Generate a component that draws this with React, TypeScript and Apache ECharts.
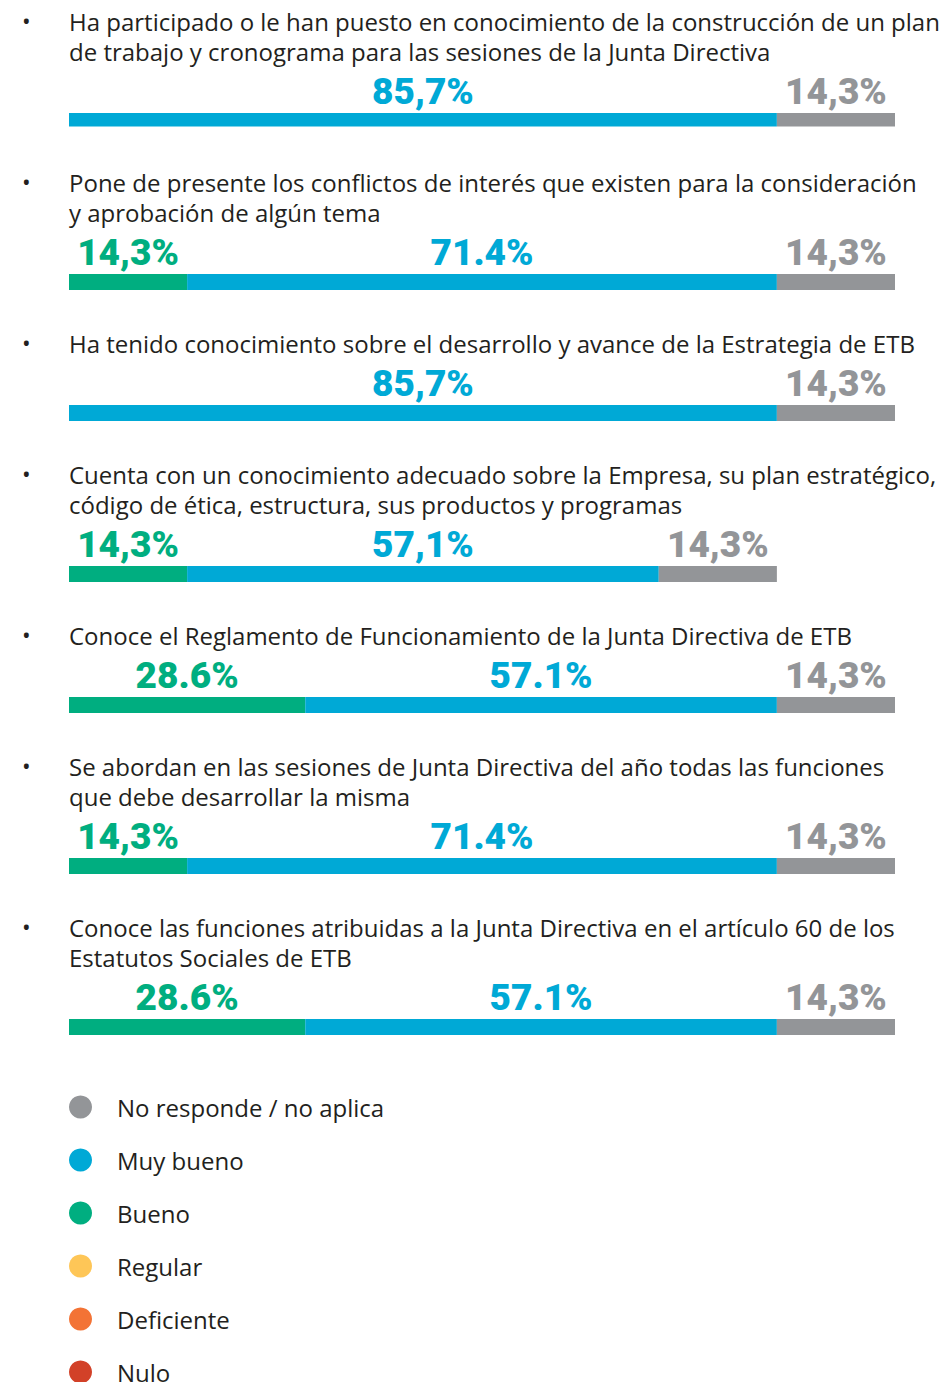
import React, { useEffect, useRef } from 'react';
import * as echarts from 'echarts';

const questions: string[] = [
  'Ha participado o le han puesto en conocimiento de la construcción de un plan\nde trabajo y cronograma para las sesiones de la Junta Directiva',
  'Pone de presente los conflictos de interés que existen para la consideración\ny aprobación de algún tema',
  'Ha tenido conocimiento sobre el desarrollo y avance de la Estrategia de ETB',
  'Cuenta con un conocimiento adecuado sobre la Empresa, su plan estratégico,\ncódigo de ética, estructura, sus productos y programas',
  'Conoce el Reglamento de Funcionamiento de la Junta Directiva de ETB',
  'Se abordan en las sesiones de Junta Directiva del año todas las funciones\nque debe desarrollar la misma',
  'Conoce las funciones atribuidas a la Junta Directiva en el artículo 60 de los\nEstatutos Sociales de ETB',
];

const categories: string[] = ['No responde / no aplica', 'Muy bueno', 'Bueno', 'Regular', 'Deficiente', 'Nulo'];
const colors: string[] = ['#939598', '#00a9d6', '#00ae80', '#fec657', '#f37335', '#d24128'];

const bueno: (number | null)[] = [null, 14.3, null, 14.3, 28.6, 14.3, 28.6];
const muyBueno: number[] = [85.7, 71.4, 85.7, 57.1, 57.1, 71.4, 57.1];
const noResponde: number[] = [14.3, 14.3, 14.3, 14.3, 14.3, 14.3, 14.3];

const buenoLabels: string[] = ['', '14,3%', '', '14,3%', '28.6%', '14,3%', '28.6%'];
const muyBuenoLabels: string[] = ['85,7%', '71.4%', '85,7%', '57,1%', '57.1%', '71.4%', '57.1%'];
const noRespondeLabels: string[] = ['14,3%', '14,3%', '14,3%', '14,3%', '14,3%', '14,3%', '14,3%'];

const TEXT_COLOR = '#231f20';
const FONT = '"Open Sans", "Noto Sans", sans-serif';
const LABEL_FONT = 'Roboto, "Noto Sans", sans-serif';

function buildOption() {
  const lineCounts = questions.map((q) => q.split('\n').length);
  const barTops: number[] = [];
  let prev = 113 - (101 + 30 * lineCounts[0]);
  lineCounts.forEach((n) => {
    prev = prev + 101 + 30 * n;
    barTops.push(prev);
  });

  const grids: any[] = [];
  const xAxes: any[] = [];
  const yAxes: any[] = [];
  const series: any[] = [];
  const graphics: any[] = [];

  const segs = [
    { name: categories[2], color: colors[2], values: bueno, labels: buenoLabels },
    { name: categories[1], color: colors[1], values: muyBueno, labels: muyBuenoLabels },
    { name: categories[0], color: colors[0], values: noResponde, labels: noRespondeLabels },
  ];

  questions.forEach((q, i) => {
    grids.push({ left: 69, width: 826, top: barTops[i], height: 16, containLabel: false });
    xAxes.push({ type: 'value', gridIndex: i, min: 0, max: 100, show: false });
    yAxes.push({ type: 'category', gridIndex: i, data: ['r' + i], show: false });
    segs.forEach((s) => {
      const v = s.values[i];
      const lbl = s.labels[i];
      series.push({
        type: 'bar',
        name: s.name,
        xAxisIndex: i,
        yAxisIndex: i,
        stack: 'row' + i,
        barWidth: '100%',
        itemStyle: { color: s.color },
        data: [v == null ? '-' : v],
        label: {
          show: !!lbl,
          position: 'top',
          distance: 3,
          formatter: () => lbl,
          color: s.color,
          fontFamily: LABEL_FONT,
          fontWeight: 900,
          fontSize: 37,
        },
      });
    });
    const textTop = barTops[i] - 53 - 30 * (lineCounts[i] - 1) - 24;
    graphics.push({
      type: 'text',
      left: 22,
      top: textTop,
      style: { text: '•', fill: TEXT_COLOR, fontSize: 23, fontFamily: FONT, lineHeight: 30 },
    });
    graphics.push({
      type: 'text',
      left: 69,
      top: textTop,
      style: { text: q, fill: TEXT_COLOR, fontSize: 24, fontWeight: 400, fontFamily: FONT, lineHeight: 30 },
    });
  });

  // legend-only series for categories with no responses
  [3, 4, 5].forEach((k) => {
    series.push({
      type: 'bar',
      name: categories[k],
      xAxisIndex: 0,
      yAxisIndex: 0,
      itemStyle: { color: colors[k] },
      data: [],
    });
  });

  return {
    animation: false,
    grid: grids,
    xAxis: xAxes,
    yAxis: yAxes,
    series,
    graphic: graphics,
    legend: {
      orient: 'vertical',
      left: 64,
      top: 1090,
      height: 400,
      itemWidth: 23,
      itemHeight: 23,
      itemGap: 29,
      icon: 'circle',
      selectedMode: false,
      data: categories,
      textStyle: {
        color: TEXT_COLOR,
        fontFamily: FONT,
        fontWeight: 400,
        fontSize: 24,
        padding: [0, 0, 0, 20],
      },
    },
  };
}

export default function App() {
  const ref = useRef<HTMLDivElement>(null);
  useEffect(() => {
    if (!ref.current) return;
    const chart = echarts.init(ref.current, undefined, { renderer: 'svg' });
    chart.setOption(buildOption() as any);
    return () => chart.dispose();
  }, []);
  return (
    <div
      ref={ref}
      style={{ position: 'absolute', left: 0, top: 0, width: 951, height: 1382, background: '#ffffff' }}
    />
  );
}
